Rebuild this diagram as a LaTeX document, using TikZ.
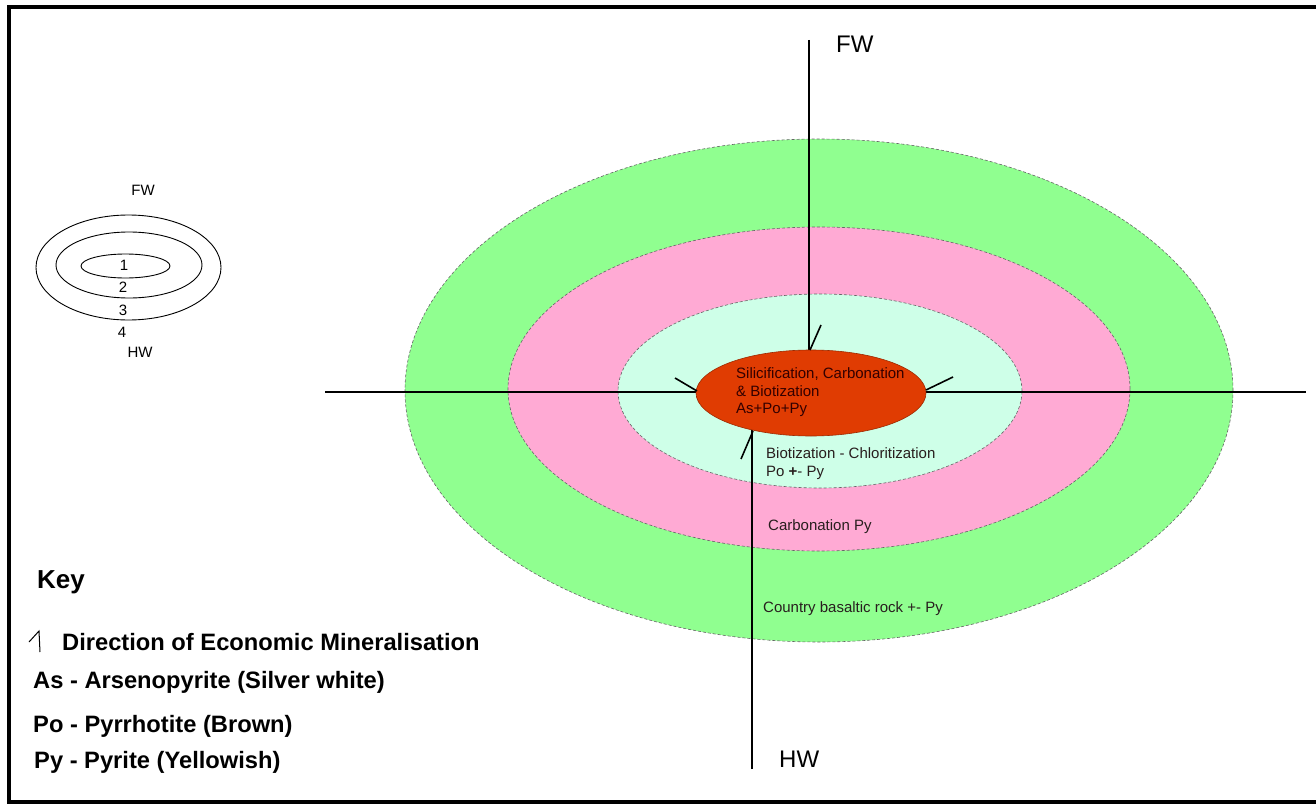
\documentclass[tikz,border=0pt]{standalone}
\usepackage{fontspec}
\setmainfont{Liberation Sans}
\usetikzlibrary{shapes.geometric}
\definecolor{zgreen}{RGB}{144,255,144}
\definecolor{zpink}{RGB}{255,170,212}
\definecolor{zcyan}{RGB}{206,255,232}
\definecolor{zred}{RGB}{224,60,2}
\definecolor{ztext}{RGB}{40,30,30}
\begin{document}
\begin{tikzpicture}[x=1pt,y=-1pt,
  zone/.style={ellipse,inner sep=0pt,draw=black!60,dashed,dash pattern=on 3pt off 2pt,line width=0.6pt},
  mini/.style={ellipse,inner sep=0pt,draw=black,line width=0.9pt},
  axisline/.style={line width=1.6pt,black},
  tick/.style={line width=1.6pt,black},
  lbl/.style={inner sep=0pt,anchor=base west,font=\fontsize{15}{18}\selectfont,text=ztext},
  small/.style={inner sep=0pt,anchor=base,font=\fontsize{15}{18}\selectfont},
  big/.style={inner sep=0pt,anchor=base west,font=\fontsize{24}{28}\selectfont},
  keytxt/.style={inner sep=0pt,anchor=base west,font=\bfseries\fontsize{23.7}{28}\selectfont}]
\useasboundingbox (0,0) rectangle (1316,805);
% frame
\draw[line width=4pt] (1330,7) -- (9,7) -- (9,802) -- (1330,802);
% zones
\node[zone,fill=zgreen,minimum width=828pt,minimum height=503pt] (green) at (819,390.5) {};
\node[zone,fill=zpink,minimum width=622pt,minimum height=324pt] (pink) at (819,389) {};
\node[zone,fill=zcyan,minimum width=404pt,minimum height=194pt] (cyan) at (820,391) {};
% axes
\coordinate (fwtop) at (809,40);
\coordinate (hwbot) at (752,769);
\coordinate (wend) at (325,392);
\coordinate (eend) at (1306,392);
\draw[axisline] (fwtop) -- (fwtop |- eend);
\draw[axisline] (hwbot) -- (hwbot |- eend);
\draw[axisline] (wend) -- (eend);
% core
\node[ellipse,inner sep=0pt,fill=zred,draw=zred!70!black,line width=0.6pt,minimum width=230pt,minimum height=86pt] (core) at (811,393) {};
% direction ticks
\coordinate (t1a) at (821,325); \coordinate (t1b) at (810,350);
\coordinate (t2a) at (675,378); \coordinate (t2b) at (697,391);
\coordinate (t3a) at (953,377); \coordinate (t3b) at (926,390);
\coordinate (t4a) at (741,459); \coordinate (t4b) at (753,431);
\draw[tick] (t1a) -- (t1b);
\draw[tick] (t2a) -- (t2b);
\draw[tick] (t3a) -- (t3b);
\draw[tick] (t4a) -- (t4b);
% zone texts
\node[lbl,text=black!80!red] (c1) at (736,378) {Silicification, Carbonation};
\node[lbl,text=black!80!red] (c2) at (736,396) {\& Biotization};
\node[lbl,text=black!80!red] (c3) at (736,413) {As+Po+Py};
\node[lbl] (b1) at (766,458) {Biotization - Chloritization};
\node[lbl] (b2) at (766,476) {Po \textbf{+}- Py};
\node[lbl] (p1) at (768,530) {Carbonation Py};
\node[lbl] (g1) at (763,612) {Country basaltic rock +- Py};
\node[big] (fw) at (836,53) {FW};
\node[big] (hw) at (779,767) {HW};
% mini legend
\node[mini,minimum width=185pt,minimum height=105pt] (m4) at (128.5,267.5) {};
\node[mini,minimum width=146pt,minimum height=66pt] (m3) at (129,265) {};
\node[mini,minimum width=89pt,minimum height=24pt] (m1) at (125.5,266) {};
\node[small] (mfw) at (143,195) {FW};
\node[small] (n1) at (124,270) {1};
\node[small] (n2) at (123,292) {2};
\node[small] (n3) at (123,315) {3};
\node[small] (n4) at (122,337) {4};
\node[small] (mhw) at (140,357) {HW};
% key
\node[inner sep=0pt,anchor=base west,font=\bfseries\fontsize{26}{30}\selectfont] (key) at (37,588) {Key};
\coordinate (ka) at (29,642); \coordinate (kb) at (39,631); \coordinate (kc) at (40,652);
\draw[line width=1pt] (ka) -- (kb) -- (kc);
\node[keytxt] (k1) at (62,650) {Direction of Economic Mineralisation};
\node[keytxt] (k2) at (33,688) {As - Arsenopyrite (Silver white)};
\node[keytxt] (k3) at (33,732) {Po - Pyrrhotite (Brown)};
\node[keytxt] (k4) at (34,768) {Py - Pyrite (Yellowish)};
\end{tikzpicture}
\end{document}
